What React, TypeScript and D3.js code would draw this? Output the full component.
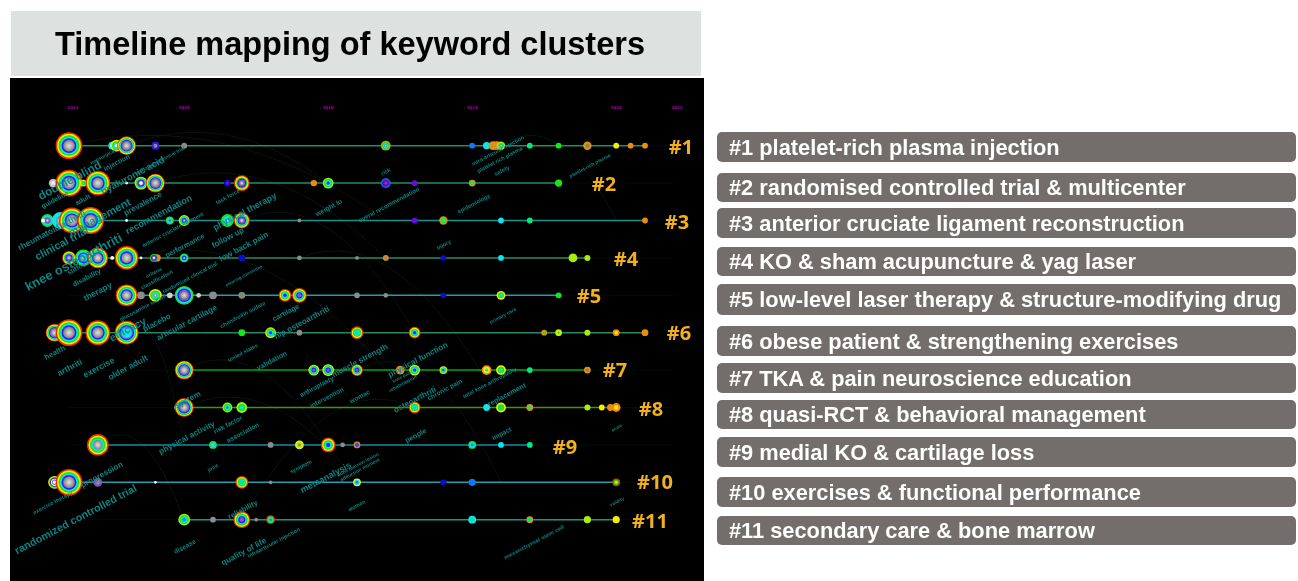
import React from "react";
import * as d3 from "d3";

const title = "Timeline mapping of keyword clusters";
const legendLabels = [
  "#1 platelet-rich plasma injection",
  "#2 randomised controlled trial & multicenter",
  "#3 anterior cruciate ligament reconstruction",
  "#4 KO & sham acupuncture & yag laser",
  "#5 low-level laser therapy & structure-modifying drug",
  "#6 obese patient & strengthening exercises",
  "#7 TKA & pain neuroscience education",
  "#8 quasi-RCT & behavioral management",
  "#9 medial KO & cartilage loss",
  "#10 exercises & functional performance",
  "#11 secondary care & bone marrow",
];
const yearTicks = [2001, 2005, 2010, 2015, 2020, 2022];

type N = [number, number, string];
// [year, node radius, citation rings from outside to centre]
const cluster1: N[] = [[2001,13,"rygcbG"],[2002.5,3.5,"cw"],[2002.65,5.5,"ygcw"],[2003,9,"rygcbpG"],[2004,3.5,"bh"],[2005,2.5,"h"],[2012,4.5,"ogcG"],[2015,2.5,"a"],[2015.5,3.2,"c"],[2015.72,4,"os"],[2015.85,4,"o"],[2016,3.8,"lsG"],[2017,2.5,"s"],[2018,2.5,"g"],[2019,3.8,"on"],[2020,2.5,"y"],[2020.5,2.5,"o"],[2021,2.5,"o"]];
const cluster2: N[] = [[2000.45,4,"W"],[2001,13,"rygcbG"],[2001.5,3,"ygc"],[2002,12,"rygcbG"],[2003,1,"w"],[2003.5,6,"ygcbpw"],[2004,9,"rygcbpG"],[2006.5,3,"dv"],[2007,7.5,"rygbpG"],[2009.5,2.8,"o"],[2010,5,"lgcb"],[2012,4.5,"abvr"],[2013,2.5,"v"],[2015,3,"ogc"],[2018,3.2,"g"]];
const cluster3: N[] = [[2000.25,6,"gcpG"],[2000.7,8,"cG"],[2001.1,12.5,"rygcbG"],[2000.1,1.5,"w"],[2001.75,13,"rygcbG"],[2003,1,"w"],[2004.5,3.5,"gcp"],[2005,5,"ygcbG"],[2006.5,6,"gcG"],[2007,7.5,"rygcbpG"],[2009,1.5,"h"],[2013,2.5,"v"],[2014,3.8,"ogc"],[2016,2.5,"c"],[2017,2.5,"s"],[2021,2.5,"o"]];
const cluster4: N[] = [[2001,6.5,"rygcbpG"],[2001.5,8,"gcbcG"],[2002,10,"rygcbG"],[2002.5,1.5,"w"],[2003,11.5,"rygcbG"],[2003.5,1,"w"],[2004.06,3.2,"o"],[2003.95,3.5,"gbpw"],[2005,4,"gcbG"],[2007,3,"d"],[2009,2,"h"],[2011,1.5,"h"],[2012,2.5,"oh"],[2014,2.5,"d"],[2016,2.5,"c"],[2018.5,4,"l"],[2019,2.6,"l"]];
const cluster5: N[] = [[2003,10.5,"rygcbG"],[2003.5,3.5,"h"],[2004,6,"ygcG"],[2004.5,2.5,"H"],[2005,9,"gcbpG"],[2005.5,2,"H"],[2006,3.5,"h"],[2007,3,"hn"],[2008.5,6,"rygcb"],[2009,7,"rygcbp"],[2011,2.5,"h"],[2012,2,"h"],[2014,2.5,"d"],[2016,4,"ygc"],[2018,2.5,"g"]];
const cluster6: N[] = [[2000.5,8.5,"rygcbpG"],[2001,13,"rygcbG"],[2002,12,"rygcbG"],[2003,11.5,"rygcbpc"],[2007,3,"g"],[2008,5,"ygcb"],[2009,2.5,"h"],[2011,6,"rygcs"],[2013,5.5,"rygcb"],[2017.5,2.5,"og"],[2018,3,"lyg"],[2019,2.6,"l"],[2020,3,"oy"],[2021,3,"o"]];
const cluster7: N[] = [[2005,9,"rygcbpG"],[2009.5,5,"ygcbp"],[2010,5.5,"ygcbp"],[2011,5.5,"rygcbp"],[2012.5,4,"oh"],[2013,5,"ygcb"],[2014,3.5,"ygcb"],[2015.5,4.5,"oyc"],[2016,4.5,"ygc"],[2017,2.5,"s"],[2019,3,"on"]];
const cluster8: N[] = [[2004.75,2.5,"h"],[2005,9,"rygcbpG"],[2006.5,4.5,"lgcp"],[2007,5,"lgc"],[2013,5.5,"rygcs"],[2015.5,3,"c"],[2016,4.5,"ygs"],[2017,3,"os"],[2019,2.6,"l"],[2019.5,2.5,"y"],[2019.8,3,"o"],[2020,4,"oy"]];
const cluster9: N[] = [[2002,10.5,"rygcG"],[2006,3.5,"gcG"],[2008,2.5,"h"],[2009,4,"ylh"],[2010,7,"rygcb"],[2010.5,2,"h"],[2011,3,"ohbp"],[2015,3.5,"gca"],[2016,2.5,"c"],[2017,2.5,"s"]];
const cluster10: N[] = [[2000.5,6,"ygbwpw"],[2001,13,"rygcbG"],[2002,4,"ph"],[2004,1,"w"],[2007,6,"rygcs"],[2008,1.5,"h"],[2011,3.5,"yca"],[2014,2.6,"d"],[2015,3.2,"a"],[2020,3.5,"rgy"]];
const cluster11: N[] = [[2005,5.5,"lgca"],[2006,2.5,"h"],[2007,8,"rygcbp"],[2007.5,1.5,"h"],[2008,4,"rgca"],[2015,3.5,"cs"],[2017,3,"osg"],[2019,3.2,"l"],[2020,3.2,"y"]];
const clusters = [cluster1, cluster2, cluster3, cluster4, cluster5, cluster6, cluster7, cluster8, cluster9, cluster10, cluster11];

const clusterIds = ["#1","#2","#3","#4","#5","#6","#7","#8","#9","#10","#11"];
const lineColors = ["#1c9068","#1a9060","#1c9088","#2a8860","#22a0a8","#2a8860","#08a808","#3a9810","#0c8ca0","#22a0b0","#10988a"];
const clusterLabelPos = [[681,146],[604,183],[677,221],[626,258],[589,295],[679,332],[615,369],[651,408],[565,446],[655,481],[650,520]];

// keyword, centre x, centre y, font size
const keywords: [string, number, number, number][] = [
  ["injection",117,163,6.2],["nonsurgical",103,157,4.4],["randomized clinical trial",160,161,4.4],["hyaluronic acid",133,176,8.6],
  ["double blind",70,181,10.5],["guideline",55,200,6],["adult",83,200,6],["prevalence",143,204,7.2],["task force",228,197,5],
  ["weight lo",329,208,6],["physical therapy",245,212,8],["recommendation",159,215,8.2],["management",100,218,10],
  ["clinical trial",62,244,9.6],["rheumatoid arthriti",52,231,7.6],["knee osteoarthriti",74,263,11.5],["anterior cruciate ligament",173,230,5],
  ["performance",185,246,6.4],["follow up",228,238,7.2],["low back pain",244,247,7.4],["stiffness",80,267,6],["disability",87,278,6.4],
  ["therapy",98,292,7.6],["criteria",154,273,4.6],["classification",157,280,5],["randomized clinical trial",190,278,4.8],["steering committee",244,276,4],
  ["glucosamine sulfate",143,308,4.8],["efficacy",128,330,9.6],["placebo",157,323,7.2],["articular cartilage",187,323,7.2],
  ["chondroitin sulfate",243,315,5],["cartilage",286,313,6.4],["hip osteoarthriti",302,323,7.2],["health",55,353,6.8],["arthriti",70,368,7.6],
  ["exercise",99,368,7.6],["older adult",128,368,7.6],["united states",243,353,4.8],["validation",272,361,6.4],["primary care",503,316,4.4],
  ["injury",444,245,5],["risk",386,172,5],["overal recommendation",389,205,5.4],["epidemiology",474,204,5],["intra-articular injection",498,151,4.8],
  ["platelet rich plasma",500,160,4.8],["safety",502,171,5],["platelet-rich plasma",590,166,4.4],["arthroplasty",317,387,5.8],["muscle strength",360,361,7.2],
  ["intervention",327,398,5.8],["physical function",418,360,7.2],["knee pain",402,377,4],["rehabilitation",403,384,4.4],["womac",360,397,5.8],
  ["osteoarthriti",415,400,7.2],["chronic pain",445,390,5.8],["total knee arthroplasty",490,383,5],["replacement",507,395,6.4],["scale",617,428,4],
  ["impact",502,434,5.8],["people",416,436,6.4],["system",188,400,7.2],["physical activity",187,438,7.2],["risk factor",228,425,5.8],["association",243,433,5.8],
  ["joint",213,468,4.8],["symptom",301,467,4.8],["metaanalysis",326,478,8],["bone marrow lesion",358,465,4.4],["adduction moment",360,470,4.4],
  ["women",357,506,4.8],["validity",617,502,4],["mesenchymal stem cell",534,542,5.4],["exercise therapy",53,503,5],["progression",102,475,7.2],
  ["randomized controlled trial",76,520,9.5],["reliability",243,510,6.6],["disease",185,547,5.8],["quality of life",244,552,7.2],["intraarticular injection",274,543,5],
];

// faint co-occurrence links: [from row, from year, to row, to year]
const links: [number, number, number, number][] = [
  [0,2001,2,2012],[0,2003,1,2010],[0,2016,2,2020],[1,2004,3,2012],[2,2007,5,2013],[3,2003,6,2012],[5,2003,8,2005],[6,2005,8,2010],[7,2005,9,2011],[8,2002,10,2005],[10,2007,7,2013],[6,2011,9,2016],[3,2009,7,2016],
];

const ringColor = d3.scaleOrdinal<string, string>()
  .domain(["r","o","y","l","g","s","c","a","b","d","p","v","w","h","n","H"])
  .range(["#f02c00","#f08a10","#f4ee00","#a8ee10","#18e818","#00ea80","#08e4ee","#0a78f8","#3418f0","#0808c8","#8a50c8","#6a08d8","#ffffff","#8c8c8c","#7c8c50","#cfcfcf"]);
const fill = (k: string) => (k === "G" ? "url(#grayCore)" : k === "W" ? "url(#whiteCore)" : ringColor(k));

const x = d3.scaleLinear().domain([2001, 2021]).range([69, 645]);
const y = d3.scalePoint<number>().domain(d3.range(11)).range([145.7, 519.7]);
const legendTops = [132,173,208,247,284,326,363,400,437,477,516];
const legendBottoms = [162,202,238,276,315,356,393,429,467,507,545];

function Node({ cx, cy, r, rings }: { cx: number; cy: number; r: number; rings: string }) {
  const letters = rings.split("");
  const n = letters.length;
  const core = n === 1 ? 1 : r > 8 ? 0.44 : Math.max(1 / n, 0.28);
  const step = (1 - core) / Math.max(n - 1, 1);
  const R = r + 0.4;
  return (
    <g>
      {letters.map((k, i) => (
        <circle key={i} cx={cx} cy={cy} r={R * (1 - i * step)} fill={fill(k)} />
      ))}
    </g>
  );
}

export default function App() {
  return (
    <svg width={1298} height={581} style={{ position: "absolute", left: 0, top: 0, display: "block", background: "#fff" }}>
      <defs>
        <radialGradient id="grayCore"><stop offset="0%" stopColor="#e4e4e4" /><stop offset="100%" stopColor="#7c7c7c" /></radialGradient>
        <radialGradient id="whiteCore"><stop offset="0%" stopColor="#ffffff" /><stop offset="100%" stopColor="#a8a8a8" /></radialGradient>
        <filter id="soft" x="-2%" y="-2%" width="104%" height="104%"><feGaussianBlur stdDeviation="0.3" /></filter>
        <filter id="softer"><feGaussianBlur stdDeviation="0.25" /></filter>
      </defs>

      <rect x={11} y={11} width={690} height={65} fill="#dde2e0" />
      <text x={350} y={54.5} textAnchor="middle" fontFamily="Liberation Sans" fontWeight="bold" fontSize={32.5} fill="#000" filter="url(#softer)">{title}</text>

      <rect x={10} y={78} width={694} height={503} fill="#000" />
      <g filter="url(#soft)">
        {links.map(([a, ya, b, yb], i) => {
          const x0 = x(ya), y0 = y(a)!, x1 = x(yb), y1 = y(b)!;
          return (
            <path key={i} fill="none" stroke="#08160f" strokeWidth={1}
              d={`M${x0},${y0}Q${(x0 + x1) / 2},${Math.min(y0, y1) - 40} ${x1},${y1}`} />
          );
        })}
        {yearTicks.map((t, i) => (
          <text key={t} x={x(t) + (i === 0 ? 4 : i === 5 ? 3.5 : 0)} y={108.5} textAnchor="middle" fontFamily="DejaVu Sans" fontWeight="bold" fontSize={4} fill="#a000a0">{t}</text>
        ))}
        {clusters.map((c, i) => {
          const ext = d3.extent(c, (d) => d[0]) as [number, number];
          return (
            <g key={i}>
              <line x1={x(2001)} x2={x(2022)} y1={y(i)} y2={y(i)} stroke={lineColors[i]} strokeOpacity={0.08} strokeWidth={1} />
              <line x1={x(ext[0])} x2={x(ext[1])} y1={y(i)} y2={y(i)} stroke={lineColors[i]} strokeWidth={1.5} />
            </g>
          );
        })}
        {clusters.map((c, i) =>
          c.map((d, j) => <Node key={`${i}-${j}`} cx={x(d[0])} cy={y(i)!} r={d[1]} rings={d[2]} />)
        )}
        {keywords.map(([t, cx, cy, s], i) => (
          <text key={i} transform={`translate(${cx},${cy}) rotate(-28)`} textAnchor="middle" dominantBaseline="middle"
            fontFamily="Liberation Sans" fontWeight="bold" fontSize={s * 1.12} fill="#0f8a8a" fillOpacity={0.95}>{t}</text>
        ))}
      </g>
      {clusterIds.map((t, i) => (
        <text key={t} x={clusterLabelPos[i][0]} y={clusterLabelPos[i][1]} textAnchor="middle" dominantBaseline="central"
          fontFamily="Open Sans" fontWeight="bold" fontSize={20} fill="#f2b01c" filter="url(#softer)">{t}</text>
      ))}

      {legendLabels.map((t, i) => (
        <g key={t}>
          <rect x={717} y={legendTops[i]} width={579} height={legendBottoms[i] - legendTops[i]} rx={5} fill="#736e6b" />
          <text x={729} y={(legendTops[i] + legendBottoms[i]) / 2} dominantBaseline="central" fontFamily="Liberation Sans" fontWeight="bold" fontSize={21.8} fill="#fff" filter="url(#softer)">{t}</text>
        </g>
      ))}
    </svg>
  );
}
